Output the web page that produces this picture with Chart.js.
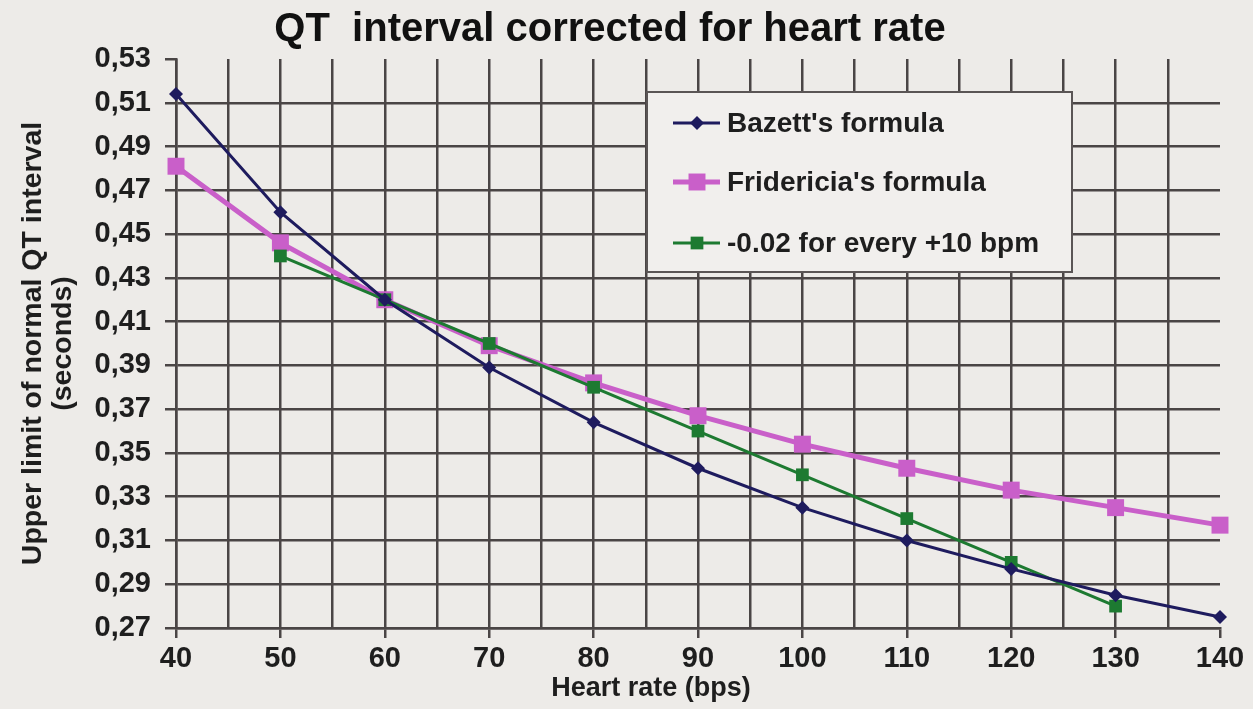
<!DOCTYPE html>
<html>
<head>
<meta charset="utf-8">
<title>QT interval corrected for heart rate</title>
<script src="https://cdn.jsdelivr.net/npm/chart.js@4.4.1/dist/chart.umd.min.js"></script>
<style>
    html, body { margin: 0; padding: 0; background: #edebe8; }
</style>
</head>
<body>
<canvas id="qtChart" width="1253" height="709"></canvas>
<script>
// valeurs
const heartRate = [40, 50, 60, 70, 80, 90, 100, 110, 120, 130, 140];
const bazett = [0.514, 0.460, 0.420, 0.389, 0.364, 0.343, 0.325, 0.310, 0.297, 0.285, 0.275];
const fridericia = [0.481, 0.446, 0.420, 0.399, 0.382, 0.367, 0.354, 0.343, 0.333, 0.325, 0.317];
const minusTwo = [null, 0.44, 0.42, 0.40, 0.38, 0.36, 0.34, 0.32, 0.30, 0.28, null];

const xTicks = [40, 45, 50, 55, 60, 65, 70, 75, 80, 85, 90, 95, 100, 105, 110, 115, 120, 125, 130, 135, 140];
const yTicks = [0.27, 0.29, 0.31, 0.33, 0.35, 0.37, 0.39, 0.41, 0.43, 0.45, 0.47, 0.49, 0.51, 0.53];

const seriesLabels = ["Bazett's formula", "Fridericia's formula", '-0.02 for every +10 bpm'];

const gridColor = '#4a4545';
const textColor = '#1e1e1e';
const fontFamily = "'Liberation Sans', Arial, sans-serif";

function toPoints(values) {
    return heartRate.map((x, i) => ({ x: x, y: values[i] }));
}

// fond gris clair de toute l'image
const bgPlugin = {
    id: 'bg',
    beforeDraw(chart) {
        const ctx = chart.ctx;
        ctx.save();
        ctx.fillStyle = '#edebe8';
        ctx.fillRect(0, 0, chart.width, chart.height);
        ctx.restore();
    }
};

// légende dans le cadre + titre de l'axe x
const legendPlugin = {
    id: 'boxLegend',
    afterDraw(chart) {
        const ctx = chart.ctx;
        const box = { left: 647, top: 92, right: 1072, bottom: 272 };
        ctx.save();
        ctx.fillStyle = '#f1efed';
        ctx.fillRect(box.left, box.top, box.right - box.left, box.bottom - box.top);
        ctx.strokeStyle = '#5a5555';
        ctx.lineWidth = 2;
        ctx.strokeRect(box.left, box.top, box.right - box.left, box.bottom - box.top);

        const rows = [123, 182, 243];
        chart.data.datasets.forEach((ds, i) => {
            const y = rows[i];
            ctx.strokeStyle = ds.borderColor;
            ctx.lineWidth = ds.borderWidth;
            ctx.beginPath();
            ctx.moveTo(673, y);
            ctx.lineTo(720, y);
            ctx.stroke();
            ctx.fillStyle = ds.pointBackgroundColor;
            const r = ds.pointRadius;
            ctx.beginPath();
            if (ds.pointStyle === 'rectRot') {
                ctx.moveTo(697, y - r);
                ctx.lineTo(697 + r, y);
                ctx.lineTo(697, y + r);
                ctx.lineTo(697 - r, y);
                ctx.closePath();
            } else {
                const s = r * Math.SQRT1_2;
                ctx.rect(697 - s, y - s, 2 * s, 2 * s);
            }
            ctx.fill();

            ctx.fillStyle = textColor;
            ctx.font = 'bold 28px ' + fontFamily;
            ctx.textBaseline = 'middle';
            ctx.textAlign = 'left';
            ctx.fillText(ds.label, 727, y + 1);
        });

        ctx.font = 'bold 27px ' + fontFamily;
        ctx.textAlign = 'center';
        ctx.textBaseline = 'middle';
        ctx.fillStyle = textColor;
        ctx.fillText('Heart rate (bps)', 651, 689);
        ctx.restore();
    }
};

const ctx = document.getElementById('qtChart').getContext('2d');
const qtChart = new Chart(ctx, {
    type: 'line',
    data: {
        datasets: [{
            label: seriesLabels[0],
            data: toPoints(bazett),
            borderColor: '#1e1b5e',
            backgroundColor: '#1e1b5e',
            borderWidth: 3,
            pointStyle: 'rectRot',
            pointRadius: 7,
            pointBackgroundColor: '#1e1b5e',
            pointBorderColor: '#1e1b5e',
            pointBorderWidth: 0,
            clip: false,
            order: 0,
            tension: 0
        }, {
            label: seriesLabels[1],
            data: toPoints(fridericia),
            borderColor: '#c95fc9',
            backgroundColor: '#c95fc9',
            borderWidth: 5,
            pointStyle: 'rect',
            pointRadius: 12,
            pointBackgroundColor: '#c95fc9',
            pointBorderColor: '#c95fc9',
            pointBorderWidth: 0,
            clip: false,
            order: 2,
            tension: 0
        }, {
            label: seriesLabels[2],
            data: toPoints(minusTwo),
            borderColor: '#1d7a31',
            backgroundColor: '#1d7a31',
            borderWidth: 3,
            pointStyle: 'rect',
            pointRadius: 9,
            pointBackgroundColor: '#1d7a31',
            pointBorderColor: '#1d7a31',
            pointBorderWidth: 0,
            spanGaps: false,
            clip: false,
            order: 1,
            tension: 0
        }]
    },
    options: {
        responsive: false,
        animation: false,
        layout: { padding: { left: 0, right: 33, top: 0, bottom: 0 } },
        plugins: {
            legend: { display: false },
            tooltip: { enabled: false },
            title: {
                display: true,
                text: 'QT  interval corrected for heart rate',
                color: '#111',
                font: { family: fontFamily, size: 40, weight: 'bold', lineHeight: 1.2 },
                padding: { top: 6, bottom: 5 }
            }
        },
        scales: {
            x: {
                type: 'linear',
                min: 40,
                max: 140,
                afterBuildTicks: s => { s.ticks = xTicks.map(v => ({ value: v })); },
                afterFit: s => { s.height = 81; },
                grid: {
                    color: c => (c.tick && c.tick.value === 140) ? 'transparent' : gridColor,
                    lineWidth: 2.5,
                    tickLength: 10,
                    tickColor: c => (c.tick && c.tick.value % 10 === 0) ? gridColor : 'transparent'
                },
                border: { color: gridColor, width: 2.5 },
                ticks: {
                    autoSkip: false,
                    maxRotation: 0,
                    padding: 4,
                    color: textColor,
                    font: { family: fontFamily, size: 29, weight: 'bold' },
                    callback: v => (v % 10 === 0 ? String(v) : '')
                }
            },
            y: {
                min: 0.27,
                max: 0.53,
                afterBuildTicks: s => { s.ticks = yTicks.map(v => ({ value: v })); },
                afterFit: s => { s.width = 176; },
                grid: {
                    color: c => (c.tick && c.tick.value === 0.53) ? 'transparent' : gridColor,
                    lineWidth: 2.5,
                    tickLength: 11,
                    tickColor: gridColor
                },
                border: { color: gridColor, width: 2.5 },
                ticks: {
                    padding: 14,
                    color: textColor,
                    font: { family: fontFamily, size: 29, weight: 'bold' },
                    callback: v => v.toFixed(2).replace('.', ',')
                },
                title: {
                    display: true,
                    text: ['Upper limit of normal QT interval', '(seconds)'],
                    color: textColor,
                    font: { family: fontFamily, size: 28.5, weight: 'bold', lineHeight: 1.05 },
                    padding: { top: 18, bottom: 0 }
                }
            }
        }
    },
    plugins: [bgPlugin, legendPlugin]
});
</script>
</body>
</html>
